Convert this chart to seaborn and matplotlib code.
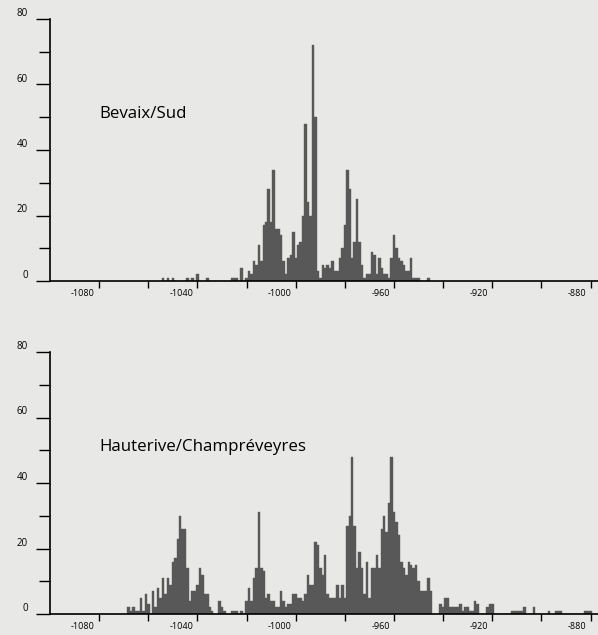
"""
Dendro dates per year for two lake-side sites (Bevaix/Sud, Hauterive/Champréveyres).
Two stacked annual histograms drawn with seaborn, saved to out.png.
"""

import numpy as np
import pandas as pd
import matplotlib
matplotlib.use("Agg")   # no display
import matplotlib.pyplot as plt
from matplotlib.transforms import ScaledTranslation
import seaborn as sns

# ── Data (number of dated timbers per year) ───────────────────────────────────
BEVAIX_FIRST_YEAR = -1054
bevaix_counts = [
    1, 0, 1, 0, 1, 0, 0, 0, 0, 0,          # -1054 .. -1045
    1, 0, 1, 0, 2, 0, 0, 0, 1, 0,          # -1044 .. -1035
    0, 0, 0, 0, 0, 0, 0, 0, 1, 1,          # -1034 .. -1025
    1, 0, 4, 0, 1, 3, 2, 6, 5, 11,         # -1024 .. -1015
    6, 17, 18, 28, 18, 34, 16, 16, 14, 6,  # -1014 .. -1005
    2, 7, 8, 15, 7, 11, 12, 20, 48, 24,    # -1004 .. -995
    20, 72, 50, 3, 1, 5, 4, 5, 4, 6,       # -994 .. -985
    3, 3, 7, 10, 17, 34, 28, 7, 12, 25,    # -984 .. -975
    12, 5, 1, 2, 2, 9, 8, 2, 7, 4,         # -974 .. -965
    2, 2, 1, 7, 14, 10, 7, 6, 5, 3,        # -964 .. -955
    3, 7, 1, 1, 1, 0, 0, 0, 1,             # -954 .. -946
]

HAUTERIVE_FIRST_YEAR = -1068
hauterive_counts = [
    2, 1, 2, 1, 1, 5, 1, 6, 3, 0,          # -1068 .. -1059
    7, 2, 8, 5, 11, 6, 11, 9, 16, 17,      # -1058 .. -1049
    23, 30, 26, 26, 14, 4, 7, 7, 9, 14,    # -1048 .. -1039
    12, 6, 6, 2, 1, 0, 0, 4, 2, 1,         # -1038 .. -1029
    0, 0, 1, 1, 1, 0, 1, 0, 4, 8,          # -1028 .. -1019
    4, 11, 14, 31, 14, 13, 5, 6, 4, 4,     # -1018 .. -1009
    2, 2, 7, 4, 2, 3, 3, 6, 6, 5,          # -1008 .. -999
    5, 4, 6, 12, 9, 9, 22, 21, 14, 12,     # -998 .. -989
    18, 6, 5, 5, 5, 9, 5, 9, 5, 27,        # -988 .. -979
    30, 48, 27, 14, 19, 14, 6, 16, 5, 14,  # -978 .. -969
    14, 18, 14, 26, 30, 25, 34, 48, 31, 28,  # -968 .. -959
    24, 16, 14, 12, 16, 15, 14, 15, 10, 7,   # -958 .. -949
    7, 7, 11, 7, 0, 0, 0, 3, 2, 5,         # -948 .. -939
    5, 2, 2, 2, 2, 3, 1, 2, 2, 1,          # -938 .. -929
    1, 4, 3, 0, 0, 0, 2, 3, 3, 0,          # -928 .. -919
    0, 0, 0, 0, 0, 0, 1, 1, 1, 1,          # -918 .. -909
    1, 2, 0, 0, 0, 2, 0, 0, 0, 0,          # -908 .. -899
    0, 1, 0, 0, 1, 1, 1, 0, 0, 0,          # -898 .. -889
    0, 0, 0, 0, 0, 0, 1, 1, 1,             # -888 .. -880
]

site_names   = ["Bevaix/Sud", "Hauterive/Champréveyres"]
x_major      = [-1080, -1040, -1000, -960, -920, -880]
x_minor      = [-1060, -1020, -980, -940, -900]
y_major      = [0, 20, 40, 60, 80]
y_minor      = [10, 30, 50, 70]

# ── Style ─────────────────────────────────────────────────────────────────────
BG    = "#e8e8e6"
BAR   = "#585858"
sns.set_style("ticks")
plt.rcParams["font.family"] = ["Open Sans", "DejaVu Sans"]
plt.rcParams["axes.unicode_minus"] = False

frames = [
    pd.DataFrame({"year": BEVAIX_FIRST_YEAR + np.arange(len(bevaix_counts)),
                  "n": bevaix_counts}),
    pd.DataFrame({"year": HAUTERIVE_FIRST_YEAR + np.arange(len(hauterive_counts)),
                  "n": hauterive_counts}),
]

fig = plt.figure(figsize=(5.98, 6.35), dpi=100, facecolor=BG)

# axes boxes in figure fractions (left, bottom, width, height)
boxes = [
    [50 / 598, 354 / 635, 548 / 598, 262 / 635],
    [50 / 598, 21 / 635, 548 / 598, 262 / 635],
]

# x labels in the scan sit just left of their tick
label_shift = ScaledTranslation(-3 / 72, 0, fig.dpi_scale_trans)

for df, name, box in zip(frames, site_names, boxes):
    ax = fig.add_axes(box)
    ax.set_facecolor(BG)

    sns.histplot(data=df, x="year", weights="n", discrete=True, ax=ax,
                 color=BAR, alpha=1, edgecolor=BAR, linewidth=0.3)

    ax.set_xlim(-1100, -877)
    ax.set_ylim(0, 80)
    ax.set_xlabel("")
    ax.set_ylabel("")

    ax.set_xticks(x_major)
    ax.set_xticks(x_minor, minor=True)
    ax.set_yticks(y_major)
    ax.set_yticks(y_minor, minor=True)
    ax.set_xticklabels([str(v) for v in x_major])
    ax.set_yticklabels([str(v) for v in y_major])

    ax.tick_params(axis="x", which="both", direction="out", length=5,
                   width=1, color="black", labelsize=6.5, pad=1,
                   labelcolor="black")
    ax.tick_params(axis="y", which="major", direction="out", length=10,
                   width=1, color="black", labelsize=7, pad=6,
                   labelcolor="black")
    ax.tick_params(axis="y", which="minor", direction="out", length=8,
                   width=1, color="black")
    for lab in ax.get_yticklabels():
        lab.set_va("bottom")
    for lab in ax.get_xticklabels():
        lab.set_ha("right")
        lab.set_transform(lab.get_transform() + label_shift)

    for side in ["top", "right"]:
        ax.spines[side].set_visible(False)
    for side in ["left", "bottom"]:
        ax.spines[side].set_linewidth(1.2)
        ax.spines[side].set_color("black")

    ax.text(-1080, 51, name, fontsize=12.2, ha="left", va="center",
            color="black")

fig.savefig("out.png", dpi=100, facecolor=BG)
plt.close(fig)
